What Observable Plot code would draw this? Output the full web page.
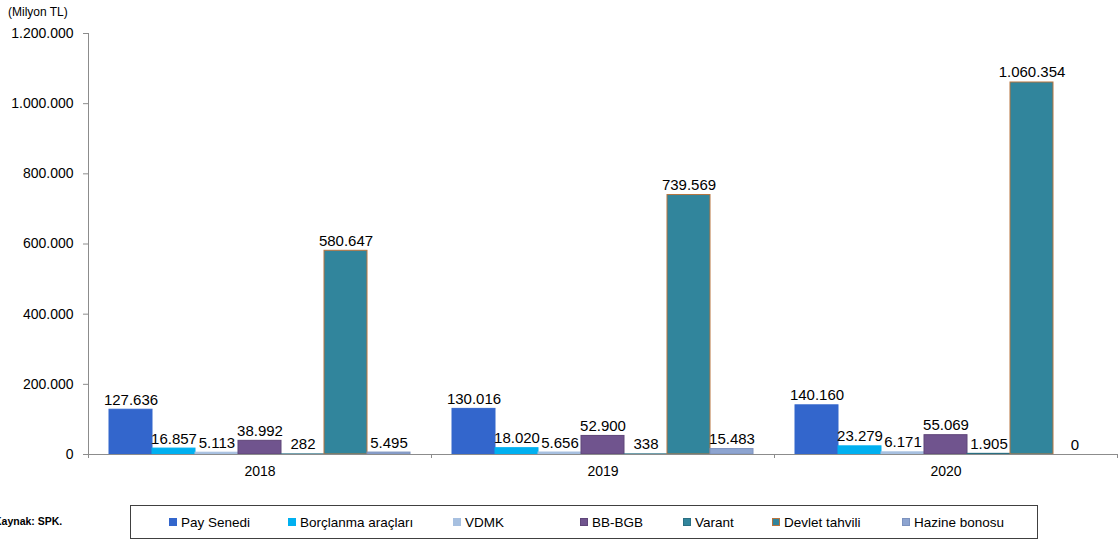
<!DOCTYPE html>
<html><head><meta charset="utf-8">
<script src="https://cdn.jsdelivr.net/npm/d3@7"></script>
<script src="https://cdn.jsdelivr.net/npm/@observablehq/plot@0.6"></script>
<style>
body{margin:0;background:#fff;font-family:"Liberation Sans",Arial,sans-serif;color:#000;}
#wrap{position:relative;width:1119px;height:540px;overflow:hidden;}
#chart{position:absolute;left:0;top:0;}
#unit{position:absolute;left:8px;top:5px;font-size:12px;}
#src{position:absolute;left:-6px;top:515px;font-size:10.5px;font-weight:bold;}
#legend{position:absolute;left:130px;top:505px;width:908px;height:34px;border:1px solid #404040;box-sizing:border-box;font-size:13.5px;}
.item{position:absolute;top:0;height:32px;display:flex;align-items:center;white-space:nowrap;}
.sw{width:8px;height:8px;margin-right:4px;box-sizing:border-box;}
</style>
</head><body>
<div id="wrap">
  <div id="chart"></div>
  <div id="unit">(Milyon TL)</div>
  <div id="src">Kaynak: SPK.</div>
  <div id="legend"></div>
</div>
<script>
const years = ["2018", "2019", "2020"];
const series = ["Pay Senedi", "Borçlanma araçları", "VDMK", "BB-BGB", "Varant", "Devlet tahvili", "Hazine bonosu"];
const paySenedi = [127636, 130016, 140160];
const borclanma = [16857, 18020, 23279];
const vdmk = [5113, 5656, 6171];
const bbBgb = [38992, 52900, 55069];
const varant = [282, 338, 1905];
const devletTahvili = [580647, 739569, 1060354];
const hazineBonosu = [5495, 15483, 0];
const yTicks = [0, 200000, 400000, 600000, 800000, 1000000, 1200000];
const fills = ["#3366CC", "#00B0F0", "#A7C0E0", "#70548E", "#31859C", "#31859C", "#8DA4D0"];
const strokes = ["#3366CC", "#00B0F0", "#A7C0E0", "#5F4679", "#2A6F82", "#B8743E", "#7C92BE"];

const valuesBySeries = [paySenedi, borclanma, vdmk, bbBgb, varant, devletTahvili, hazineBonosu];
const data = [];
years.forEach((yr, i) => series.forEach((s, j) => data.push({year: yr, series: s, value: valuesBySeries[j][i]})));

const loc = d3.formatLocale({decimal: ",", thousands: ".", grouping: [3], currency: ["", ""]});
const fmt = loc.format(",d");

const W = 1119, H = 490;
const chart = Plot.plot({
  width: W, height: H,
  marginLeft: 88, marginRight: 2, marginTop: 33, marginBottom: 36,
  style: {fontFamily: "'Liberation Sans', Arial, sans-serif", fontSize: "14px", color: "#000", background: "#fff"},
  fx: {domain: years, padding: 0, label: null},
  x: {domain: series, paddingInner: 0, paddingOuter: 0.47, axis: null},
  y: {domain: [0, 1200000], label: null},
  color: {domain: series, range: fills},
  marks: [
    Plot.barY(data, {fx: "year", x: "series", y: "value", fill: "series",
      stroke: d => strokes[series.indexOf(d.series)], strokeWidth: 1}),
    Plot.ruleY([0], {stroke: "#8c8c8c"}),
    Plot.text(data, {fx: "year", x: "series", y: "value", text: d => fmt(d.value),
      lineAnchor: "bottom", dy: -5, fontSize: 15, fill: "#000"}),
    Plot.axisY({ticks: yTicks, tickFormat: fmt, tickSize: 5, tickPadding: 10, stroke: "#8c8c8c", fill: "#000", fontSize: 14, label: null}),
    Plot.axisFx({anchor: "bottom", tickSize: 0, tickPadding: 12, fontSize: 14, label: null, fill: "#000"})
  ]
});

// axis lines and group boundary ticks from the scales
const fxS = chart.scale("fx"), yS = chart.scale("y");
const y0 = yS.apply(0), yTop = yS.apply(1200000);
const left = fxS.apply(years[0]);
const g = d3.select(chart).append("g").attr("stroke", "#8c8c8c").attr("shape-rendering", "crispEdges");
g.append("line").attr("x1", left).attr("x2", left).attr("y1", yTop).attr("y2", y0);
const bounds = years.map(yr => fxS.apply(yr)).concat([fxS.apply(years[years.length - 1]) + fxS.bandwidth]);
bounds.forEach(b => g.append("line").attr("x1", b).attr("x2", b).attr("y1", y0).attr("y2", y0 + 4));

document.getElementById("chart").appendChild(chart);

// legend
const legendOffsets = [38, 157, 322, 449, 552, 641, 771];
const lg = document.getElementById("legend");
series.forEach((s, j) => {
  const it = document.createElement("div");
  it.className = "item";
  it.style.left = legendOffsets[j] + "px";
  const sw = document.createElement("span");
  sw.className = "sw";
  sw.style.background = fills[j];
  sw.style.border = "1px solid " + strokes[j];
  it.appendChild(sw);
  it.appendChild(document.createTextNode(s));
  lg.appendChild(it);
});
</script>
</body></html>
